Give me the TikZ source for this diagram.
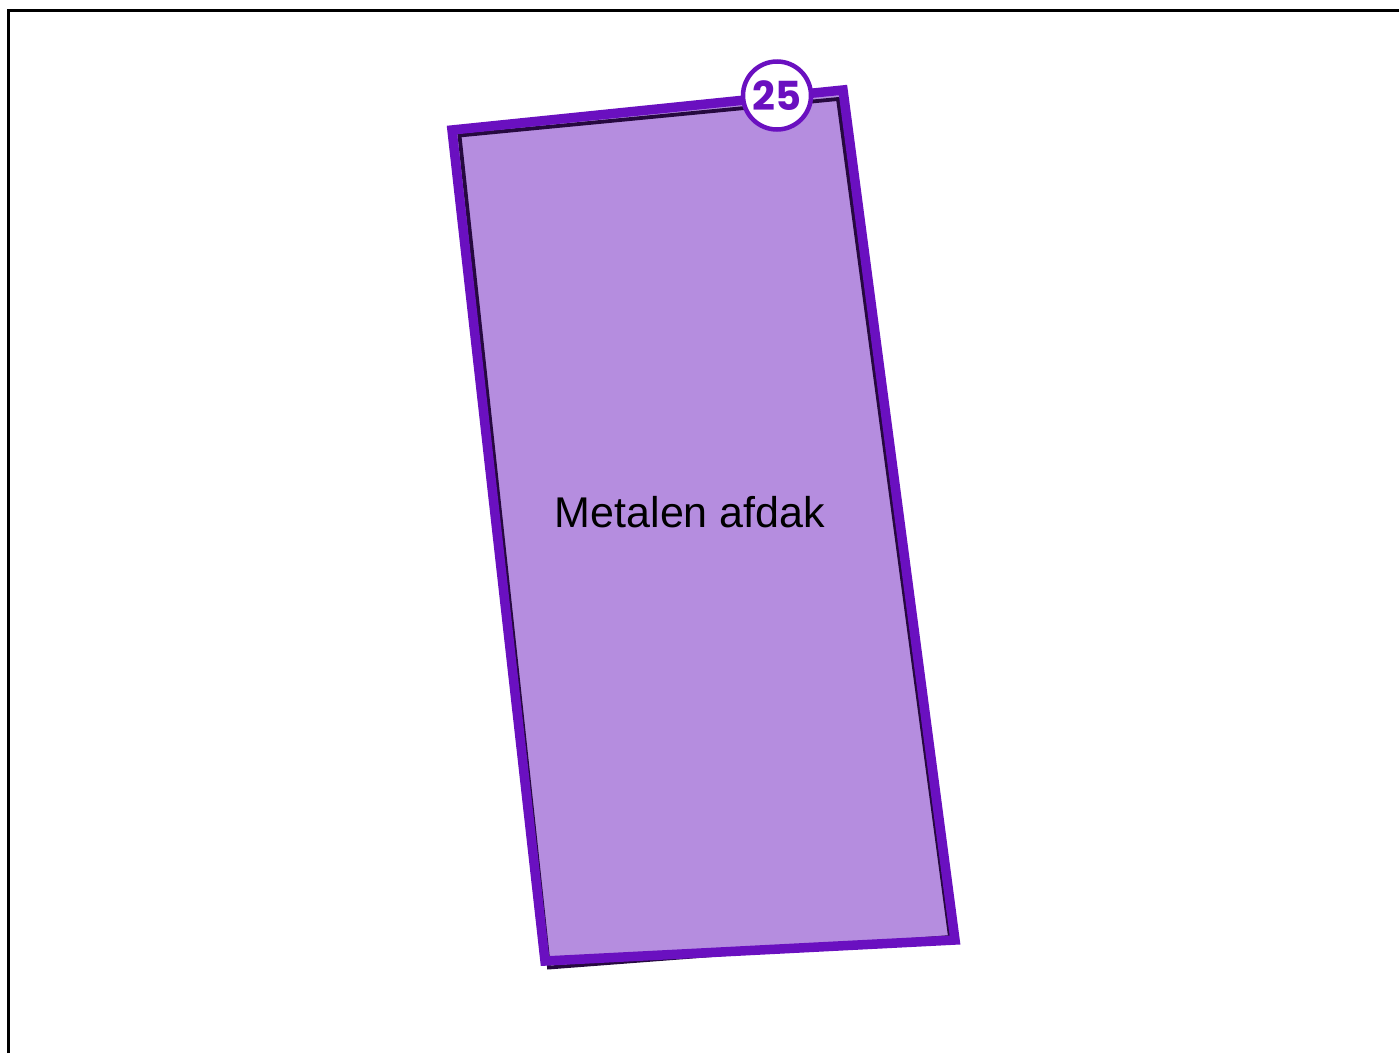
\documentclass[tikz,border=0pt]{standalone}
\usepackage{fontspec}
\setmainfont{Liberation Sans}
\newfontfamily\badgefont{Poppins}[UprightFont=* Bold]
\definecolor{edgepurple}{HTML}{6A10C0}
\definecolor{fillpurple}{HTML}{B58DDF}
\definecolor{shadowdark}{HTML}{26093F}
\tikzset{
  frameline/.style={line width=3bp, black},
  zonefill/.style={fill=fillpurple, draw=none},
  zoneshadow/.style={draw=shadowdark, line width=3.8bp, line join=miter},
  zoneedge/.style={draw=edgepurple, line width=9.5bp, line join=miter},
  badge/.style={circle, draw=edgepurple, fill=white, line width=4.5bp, minimum size=68bp, inner sep=0pt, text=edgepurple, font=\badgefont\fontsize{40bp}{40bp}\selectfont},
  zonelabel/.style={font=\fontsize{43bp}{43bp}\selectfont, text=black}
}
\begin{document}
\begin{tikzpicture}[x=1bp,y=-1bp]
\useasboundingbox (0,0) rectangle (1399,1053);
\draw[frameline] (8,1053) -- (8,10.5) -- (1399,10.5);
% zone polygon
\coordinate (tl) at (452,130);
\coordinate (tr) at (843,90);
\coordinate (br) at (955,940);
\coordinate (bl) at (545,961);
\fill[zonefill] (tl) -- (tr) -- (br) -- (bl) -- cycle;
\draw[zoneshadow] (459.5,135.5) -- (838,99) -- (950,937) -- (549,967.5) -- cycle;
\draw[zoneedge] (tl) -- (tr) -- (br) -- (bl) -- cycle;
\node[zonelabel] (label) at (690,512) {Metalen afdak};
\node[badge] (num) at (777,95.5) {\raisebox{-1.5bp}{25}};
\end{tikzpicture}
\end{document}
